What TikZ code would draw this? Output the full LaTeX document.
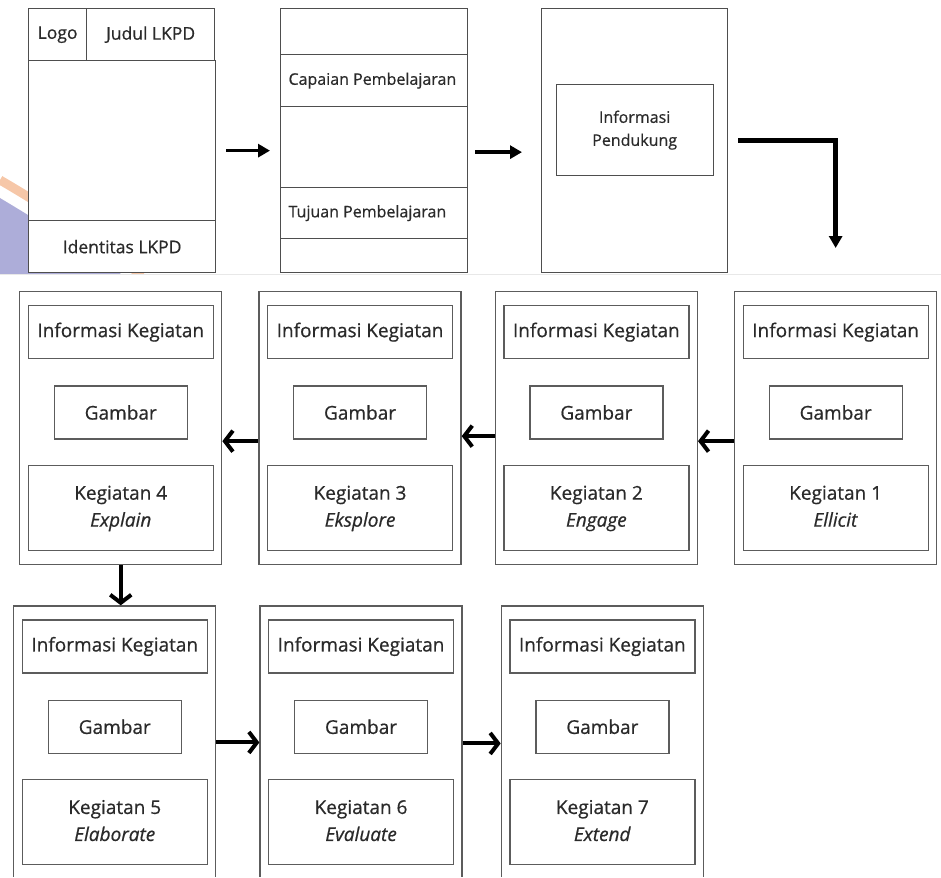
\documentclass[tikz,border=0pt]{standalone}
\usepackage{xcolor}
\usepackage{fontspec}
\setmainfont{Open Sans}[FakeBold=0.6, AutoFakeBold=0.6]
\usepackage{tikz}
\usetikzlibrary{shapes.geometric, arrows, arrows.meta}
\usetikzlibrary{positioning}

\definecolor{linegray}{HTML}{5C5C5C}
\definecolor{textgray}{HTML}{2A2A2A}
\definecolor{wmpurple}{HTML}{ADADD9}
\definecolor{wmorange}{HTML}{F6C7A8}
\newcommand{\toptext}{\fontsize{16}{23}\selectfont}
\newcommand{\headtext}{\fontsize{17.5}{23}\selectfont}
\newcommand{\boxtext}{\fontsize{19}{27}\selectfont}

\begin{document}
\begin{tikzpicture}[x=1pt, y=-1pt, every node/.style={text=textgray}]
\tikzstyle{sheet} = [rectangle, draw=linegray!85!black, line width=1.3pt, fill=white, minimum width=187pt, inner sep=0pt]
\tikzstyle{page} = [rectangle, draw=linegray, line width=1.3pt, fill=white, minimum width=202pt, minimum height=273pt, inner sep=0pt]
\tikzstyle{info} = [rectangle, draw=linegray, line width=1.3pt, minimum width=185pt, minimum height=53pt, font=\boxtext]
\tikzstyle{gambar} = [rectangle, draw=linegray, line width=1.3pt, minimum width=133pt, minimum height=53pt, font=\boxtext]
\tikzstyle{kegiatan} = [rectangle, draw=linegray, line width=1.3pt, minimum width=185pt, minimum height=85pt, align=center, font=\boxtext]
\tikzstyle{arrow} = [line width=3.5pt, -{Triangle[length=12pt, width=13pt]}]
\tikzstyle{barb} = [line width=4pt, -{Straight Barb[length=8pt, width=21pt]}]

\useasboundingbox (0,0) rectangle (941,877);
\clip (0,0) rectangle (941,876);

% Background
\begin{scope}
\clip (0,0) rectangle (941,274);
\fill [wmpurple] (0,198) .. controls (40,222) and (85,250) .. (124,276) -- (0,276) -- cycle;
\draw [wmorange, line width=9pt] (0,180) .. controls (48,208) and (100,242) .. (142,276);
\end{scope}
\draw [gray!18, line width=0.8pt] (0,274) -- (941,274);

% Cover
\node (logo) [sheet, minimum width=58pt, minimum height=52pt, anchor=north west, font=\headtext] at (28,8) {Logo};
\node (judul) [sheet, minimum width=128pt, minimum height=52pt, right=-1.3pt of logo, font=\headtext] {Judul LKPD};
\node (body) [sheet, minimum height=160pt, below right=-1.3pt and 0pt of logo.south west] {};
\node (ident) [sheet, minimum height=52pt, below=-1.3pt of body, font=\headtext] {Identitas LKPD};

% Capaian / Tujuan
\node (btop) [sheet, minimum height=46pt, anchor=north west] at (280,8) {};
\node (cp) [sheet, minimum height=52pt, below=-1.3pt of btop] {};
\node (bmid) [sheet, minimum height=81pt, below=-1.3pt of cp] {};
\node (tp) [sheet, minimum height=51pt, below=-1.3pt of bmid] {};
\node (bbot) [sheet, minimum height=34pt, below=-1.3pt of tp] {};
\node (cptext) [anchor=west, font=\toptext] at ([xshift=5pt]cp.west) {Capaian Pembelajaran};
\node (tptext) [anchor=west, font=\toptext] at ([xshift=5pt]tp.west) {Tujuan Pembelajaran};

% Informasi pendukung
\node (boxc) [sheet, minimum width=186pt, minimum height=264pt, anchor=north west] at (541,8) {};
\node (pendukung) [sheet, minimum width=157pt, minimum height=91pt, below=76pt of boxc.north, align=center, font=\toptext] {Informasi\\Pendukung};

% Pages
\node (k1) [page, anchor=north west] at (734,291) {};
\node (k2) [page, left=36pt of k1] {};
\node (k3) [page, left=33pt of k2] {};
\node (k4) [page, left=36pt of k3] {};
\node (k5) [page, below=40pt of k4, xshift=-6pt] {};
\node (k6) [page, right=43pt of k5] {};
\node (k7) [page, right=38pt of k6] {};

\node (info1) [info, below=14pt of k1.north] {Informasi Kegiatan};
\node (gambar1) [gambar, below=26pt of info1] {Gambar};
\node (keg1) [kegiatan, below=25pt of gambar1] {Kegiatan 1\strut\\\textit{Ellicit}\strut};

\node (info2) [info, below=14pt of k2.north] {Informasi Kegiatan};
\node (gambar2) [gambar, below=26pt of info2] {Gambar};
\node (keg2) [kegiatan, below=25pt of gambar2] {Kegiatan 2\strut\\\textit{Engage}\strut};

\node (info3) [info, below=14pt of k3.north] {Informasi Kegiatan};
\node (gambar3) [gambar, below=26pt of info3] {Gambar};
\node (keg3) [kegiatan, below=25pt of gambar3] {Kegiatan 3\strut\\\textit{Eksplore}\strut};

\node (info4) [info, below=14pt of k4.north] {Informasi Kegiatan};
\node (gambar4) [gambar, below=26pt of info4] {Gambar};
\node (keg4) [kegiatan, below=25pt of gambar4] {Kegiatan 4\strut\\\textit{Explain}\strut};

\node (info5) [info, below=14pt of k5.north] {Informasi Kegiatan};
\node (gambar5) [gambar, below=26pt of info5] {Gambar};
\node (keg5) [kegiatan, below=25pt of gambar5] {Kegiatan 5\strut\\\textit{Elaborate}\strut};

\node (info6) [info, below=14pt of k6.north] {Informasi Kegiatan};
\node (gambar6) [gambar, below=26pt of info6] {Gambar};
\node (keg6) [kegiatan, below=25pt of gambar6] {Kegiatan 6\strut\\\textit{Evaluate}\strut};

\node (info7) [info, below=14pt of k7.north] {Informasi Kegiatan};
\node (gambar7) [gambar, below=26pt of info7] {Gambar};
\node (keg7) [kegiatan, below=25pt of gambar7] {Kegiatan 7\strut\\\textit{Extend}\strut};

% Arrows
\draw [arrow, shorten <=10pt, shorten >=10pt] ([yshift=-10pt]body.east) -- ([yshift=-10pt]body.east -| bmid.west);
\draw [arrow, shorten <=7pt, shorten >=19pt] ([yshift=-5pt]bmid.east) -- ([yshift=-5pt]bmid.east -| boxc.west);
\draw [arrow, line width=4.5pt, shorten <=10pt, shorten >=43pt] (boxc.east) -| (k1.north);
\draw [barb] ([yshift=-13pt]k1.west) -- ([yshift=-13pt]k2.east);
\draw [barb] ([yshift=-8pt]k2.west) -- ([yshift=-8pt]k3.east);
\draw [barb] ([yshift=-13pt]k3.west) -- ([yshift=-13pt]k4.east);
\draw [barb] (k4.south) -- (k4.south |- k5.north);
\draw [barb] (k5.east) -- (k6.west);
\draw [barb] ([yshift=-1pt]k6.east) -- ([yshift=-1pt]k6.east -| k7.west);

\end{tikzpicture}
\end{document}
